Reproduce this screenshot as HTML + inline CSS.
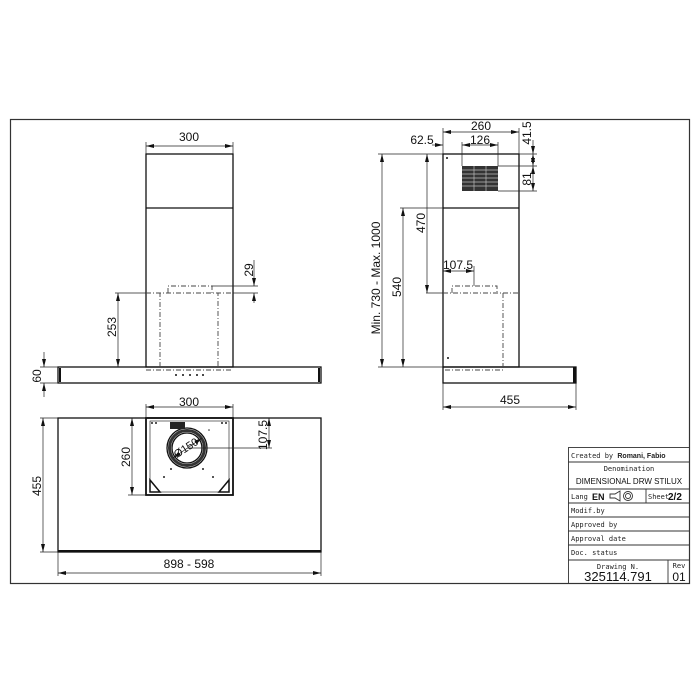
<!DOCTYPE html>
<html><head><meta charset="utf-8"><style>
html,body{margin:0;padding:0;background:#fff;}
svg{display:block;}
text{font-family:"Liberation Sans",sans-serif;fill:#111;}
.t{font-family:"DejaVu Sans Mono","Liberation Mono",monospace;font-size:7px;fill:#222;}
</style></head><body>
<svg width="700" height="700" viewBox="0 0 700 700" xmlns="http://www.w3.org/2000/svg">
<defs>
<marker id="a" markerWidth="8" markerHeight="6" refX="8" refY="3" orient="auto-start-reverse" markerUnits="userSpaceOnUse"><path d="M0,1 L8,3 L0,5z" fill="#111"/></marker>
</defs>
<rect width="700" height="700" fill="#fff"/>
<!-- frame -->
<rect x="10.5" y="119.5" width="679" height="464" fill="none" stroke="#333" stroke-width="1.2"/>

<g stroke="#111" fill="none" stroke-width="1.3">
<!-- FRONT VIEW -->
<rect x="146" y="154" width="87" height="213"/>
<line x1="146" y1="208" x2="233" y2="208"/>
<rect x="58" y="367" width="263" height="16"/>
<line x1="60" y1="368" x2="60" y2="382" stroke-width="2"/>
<line x1="319" y1="368" x2="319" y2="382" stroke-width="2"/>
<!-- SIDE VIEW -->
<rect x="443" y="154" width="76" height="213"/>
<line x1="443" y1="208" x2="519" y2="208"/>
<rect x="443" y="367" width="133" height="16"/>
<line x1="574.5" y1="367" x2="574.5" y2="383" stroke-width="3"/>
<!-- BOTTOM VIEW -->
<rect x="58" y="418" width="263" height="134"/>
<line x1="58" y1="551" x2="321" y2="551" stroke-width="2"/>
<rect x="146" y="418" width="87" height="77" stroke-width="1.8"/>
<rect x="150" y="421" width="79" height="71" stroke-width="0.6"/>
<circle cx="187" cy="448" r="20" stroke-width="1.3"/>
<circle cx="187" cy="448" r="15" stroke-width="1.3"/>
<circle cx="187" cy="448" r="17.5" stroke-width="3" stroke="#333"/>
</g>
<rect x="170" y="422" width="15" height="7" fill="#222"/>
<path d="M150,492 L150,480 L160,492z M229,492 L229,480 L219,492z" fill="none" stroke="#111" stroke-width="1.5"/>
<g fill="#222"><circle cx="152" cy="423" r="1"/><circle cx="156" cy="423" r="1"/><circle cx="222" cy="423" r="1"/><circle cx="226" cy="423" r="1"/><circle cx="171" cy="469" r="1"/><circle cx="203" cy="469" r="1"/><circle cx="164" cy="477" r="1"/><circle cx="213" cy="477" r="1"/><circle cx="209" cy="430" r="0.8"/></g>
<!-- dots front -->
<g fill="#111"><circle cx="176" cy="375" r="1"/><circle cx="183" cy="375" r="1"/><circle cx="190" cy="375" r="1"/><circle cx="197" cy="375" r="1"/><circle cx="203" cy="375" r="1"/></g>
<!-- grille side -->
<rect x="462" y="166" width="36" height="25" fill="#333"/>
<g stroke="#bbb" stroke-width="0.7"><line x1="462" y1="170" x2="498" y2="170"/><line x1="462" y1="174" x2="498" y2="174"/><line x1="462" y1="178" x2="498" y2="178"/><line x1="462" y1="182" x2="498" y2="182"/><line x1="462" y1="186" x2="498" y2="186"/><line x1="474" y1="166" x2="474" y2="191"/><line x1="486" y1="166" x2="486" y2="191"/></g>
<circle cx="447" cy="158" r="1" fill="#111"/><circle cx="448" cy="358" r="1" fill="#111"/>

<!-- dashed hidden lines -->
<g stroke="#444" fill="none" stroke-width="0.9" stroke-dasharray="5,2,1,2">
<path d="M160,367 L160,293 L218,293 L218,367"/>
<path d="M146,293 L233,293"/>
<path d="M168,293 L168,286 L212,286 L212,293"/>
<path d="M146,370 L233,370"/>
<path d="M452,293 L452,286 L497,286 L497,293"/>
<path d="M443,293 L519,293"/>
<path d="M503,293 L503,370 L443,370"/>
</g>

<!-- dimension lines -->
<g stroke="#222" stroke-width="0.7" fill="none">
<!-- front 300 -->
<line x1="146" y1="142" x2="146" y2="154"/><line x1="233" y1="142" x2="233" y2="154"/>
<line x1="146" y1="146" x2="233" y2="146" marker-start="url(#a)" marker-end="url(#a)"/>
<!-- 29 -->
<line x1="212" y1="286" x2="258" y2="286"/><line x1="233" y1="293" x2="258" y2="293"/>
<line x1="254" y1="260" x2="254" y2="286" marker-end="url(#a)"/>
<line x1="254" y1="303" x2="254" y2="293" marker-end="url(#a)"/>
<!-- 253 -->
<line x1="115" y1="293" x2="146" y2="293"/>
<line x1="118" y1="293" x2="118" y2="367" marker-start="url(#a)" marker-end="url(#a)"/>
<!-- 60 -->
<line x1="40" y1="367" x2="58" y2="367"/><line x1="40" y1="383" x2="58" y2="383"/>
<line x1="44" y1="352" x2="44" y2="367" marker-end="url(#a)"/>
<line x1="44" y1="397" x2="44" y2="383" marker-end="url(#a)"/>
<!-- side 260 -->
<line x1="443" y1="128" x2="443" y2="154"/><line x1="519" y1="128" x2="519" y2="154"/>
<line x1="443" y1="132" x2="519" y2="132" marker-start="url(#a)" marker-end="url(#a)"/>
<!-- 126 -->
<line x1="462" y1="142" x2="462" y2="166"/><line x1="498" y1="142" x2="498" y2="166"/>
<line x1="462" y1="145" x2="498" y2="145" marker-start="url(#a)" marker-end="url(#a)"/>
<line x1="432" y1="145" x2="443" y2="145" marker-end="url(#a)"/>
<!-- 41.5, 81 -->
<line x1="498" y1="166" x2="537" y2="166"/><line x1="498" y1="191" x2="537" y2="191"/><line x1="519" y1="154" x2="537" y2="154"/>
<line x1="533" y1="140" x2="533" y2="154" marker-end="url(#a)"/>
<line x1="533" y1="154" x2="533" y2="166" marker-start="url(#a)" marker-end="url(#a)"/>
<line x1="533" y1="166" x2="533" y2="191" marker-start="url(#a)" marker-end="url(#a)"/>
<!-- min-max -->
<line x1="378" y1="154" x2="443" y2="154"/><line x1="378" y1="367" x2="443" y2="367"/>
<line x1="382" y1="154" x2="382" y2="367" marker-start="url(#a)" marker-end="url(#a)"/>
<!-- 470 -->
<line x1="426" y1="293" x2="443" y2="293"/>
<line x1="427" y1="154" x2="427" y2="293" marker-start="url(#a)" marker-end="url(#a)"/>
<!-- 540 -->
<line x1="400" y1="208" x2="443" y2="208"/>
<line x1="403" y1="208" x2="403" y2="367" marker-start="url(#a)" marker-end="url(#a)"/>
<!-- 107.5 side -->
<line x1="474" y1="266" x2="474" y2="286"/>
<line x1="443" y1="271" x2="474" y2="271" marker-start="url(#a)" marker-end="url(#a)"/>
<!-- 455 side -->
<line x1="443" y1="383" x2="443" y2="410"/><line x1="576" y1="383" x2="576" y2="410"/>
<line x1="443" y1="407" x2="576" y2="407" marker-start="url(#a)" marker-end="url(#a)"/>
<!-- bottom 300 -->
<line x1="146" y1="404" x2="146" y2="418"/><line x1="233" y1="404" x2="233" y2="418"/>
<line x1="146" y1="407" x2="233" y2="407" marker-start="url(#a)" marker-end="url(#a)"/>
<!-- 260 -->
<line x1="128" y1="495" x2="146" y2="495"/>
<line x1="132" y1="418" x2="132" y2="495" marker-start="url(#a)" marker-end="url(#a)"/>
<!-- 455 bottom -->
<line x1="40" y1="418" x2="58" y2="418"/><line x1="40" y1="552" x2="58" y2="552"/>
<line x1="43" y1="418" x2="43" y2="552" marker-start="url(#a)" marker-end="url(#a)"/>
<!-- 107.5 bottom -->
<line x1="187" y1="448" x2="272" y2="448"/>
<line x1="269" y1="418" x2="269" y2="448" marker-start="url(#a)" marker-end="url(#a)"/>
<!-- diameter -->
<line x1="173" y1="458" x2="202" y2="438" marker-start="url(#a)" marker-end="url(#a)"/>
<!-- 898 -->
<line x1="58" y1="552" x2="58" y2="576"/><line x1="321" y1="552" x2="321" y2="576"/>
<line x1="58" y1="573" x2="321" y2="573" marker-start="url(#a)" marker-end="url(#a)"/>
</g>

<!-- dimension text -->
<g font-size="12" text-anchor="middle">
<text x="189" y="141">300</text>
<text x="481" y="130">260</text>
<text x="480" y="144">126</text>
<text x="422" y="144">62.5</text>
<text x="458" y="269">107.5</text>
<text x="510" y="404">455</text>
<text x="189" y="406">300</text>
<text x="189" y="568">898  -  598</text>
<text transform="translate(253,270) rotate(-90)">29</text>
<text transform="translate(116,327) rotate(-90)">253</text>
<text transform="translate(41,376) rotate(-90)">60</text>
<text transform="translate(531,133) rotate(-90)">41.5</text>
<text transform="translate(531,179) rotate(-90)">81</text>
<text transform="translate(380,278) rotate(-90)">Min.  730  -  Max.  1000</text>
<text transform="translate(425,223) rotate(-90)">470</text>
<text transform="translate(401,287) rotate(-90)">540</text>
<text transform="translate(130,457) rotate(-90)">260</text>
<text transform="translate(41,486) rotate(-90)">455</text>
<text transform="translate(267,435) rotate(-90)">107.5</text>
<text transform="translate(188,451) rotate(-33)" font-size="11">Ø150</text>
</g>

<!-- title block -->
<g stroke="#333" stroke-width="0.9" fill="none">
<rect x="568.5" y="447.5" width="121" height="136"/>
<line x1="568" y1="462" x2="690" y2="462"/>
<line x1="568" y1="489" x2="690" y2="489"/>
<line x1="568" y1="503" x2="690" y2="503"/>
<line x1="646" y1="489" x2="646" y2="503"/>
<line x1="568" y1="517" x2="690" y2="517"/>
<line x1="568" y1="531" x2="690" y2="531"/>
<line x1="568" y1="545" x2="690" y2="545"/>
<line x1="568" y1="560" x2="690" y2="560"/>
<line x1="668" y1="560" x2="668" y2="584"/>
<path d="M610,494 L615,494 L620,491 L620,501 L615,498 L610,498z"/>
<circle cx="628" cy="496" r="4.5"/><circle cx="628" cy="496" r="2.5"/>
</g>
<text class="t" x="571" y="458">Created by <tspan font-family="Liberation Sans" font-weight="bold" font-size="7">Romani, Fabio</tspan></text>
<text class="t" x="629" y="471" text-anchor="middle">Denomination</text>
<text x="629" y="484" text-anchor="middle" font-size="8">DIMENSIONAL  DRW  STILUX</text>
<text class="t" x="571" y="499">Lang</text>
<text x="592" y="500" font-size="9" font-weight="bold">EN</text>
<text class="t" x="648" y="499">Sheet</text>
<text x="668" y="500" font-size="10" font-weight="bold">2/2</text>
<text class="t" x="571" y="513">Modif.by</text>
<text class="t" x="571" y="527">Approved by</text>
<text class="t" x="571" y="541">Approval date</text>
<text class="t" x="571" y="555">Doc. status</text>
<text class="t" x="618" y="569" text-anchor="middle" font-size="9">Drawing N.</text>
<text x="618" y="581" text-anchor="middle" font-size="13">325114.791</text>
<text class="t" x="679" y="568" text-anchor="middle">Rev</text>
<text x="679" y="581" text-anchor="middle" font-size="12">01</text>
</svg>
</body></html>
